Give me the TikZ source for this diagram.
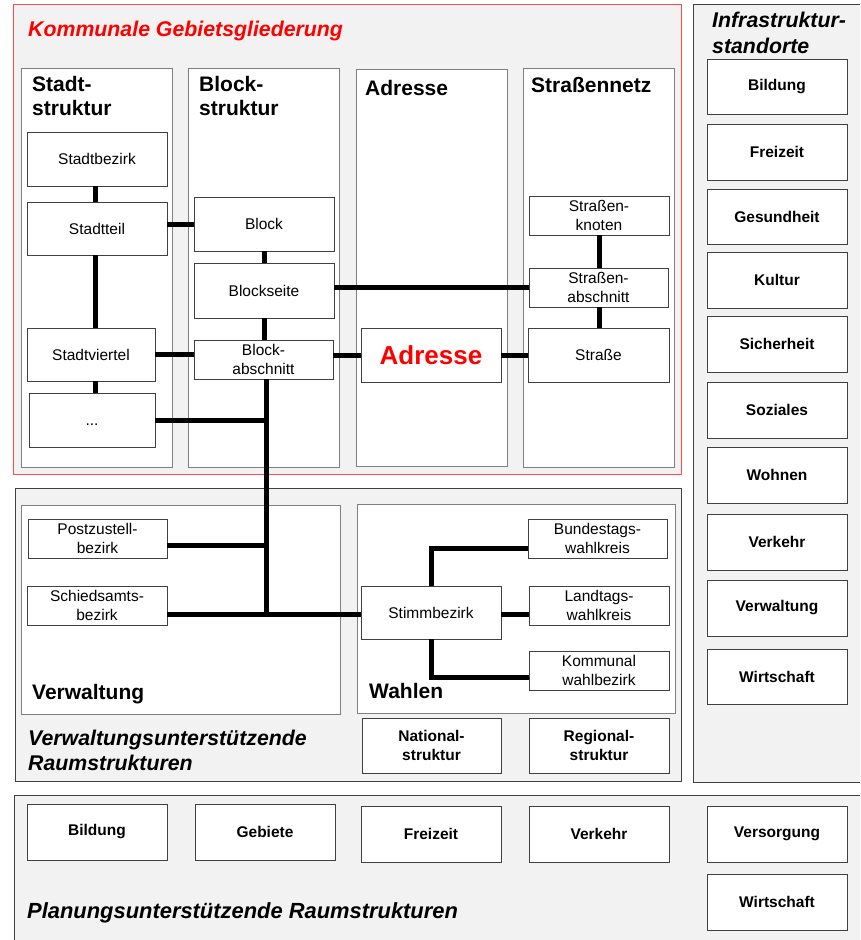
\documentclass[tikz,border=0pt]{standalone}
\usepackage{fontspec}
\setmainfont{Liberation Sans}
\usetikzlibrary{calc}
\definecolor{panelgray}{HTML}{F2F2F2}
\definecolor{edgedark}{HTML}{404040}
\definecolor{edgegray}{HTML}{7F7F7F}
\definecolor{kred}{HTML}{FF0000}
\definecolor{kredline}{HTML}{FF4A4A}
\newcommand{\placebox}[7]{%
  \node[#6, minimum width={(#4)-(#2)}, minimum height={(#5)-(#3)}] (#1) at ({((#2)+(#4))/2},{((#3)+(#5))/2}) {#7};}
\tikzset{
  panel/.style={draw=edgedark, fill=panelgray, line width=1pt, inner sep=0pt},
  redpanel/.style={draw=kredline, fill=panelgray, line width=1pt, inner sep=0pt},
  colbox/.style={draw=edgegray, fill=white, line width=1pt, inner sep=0pt},
  box/.style={draw=edgedark, fill=white, line width=0.9pt, align=center, inner sep=0pt, font=\fontsize{15.5}{18.5}\selectfont},
  bbox/.style={box, font=\bfseries\fontsize{15.5}{18.5}\selectfont},
  head/.style={anchor=base west, inner sep=0pt, font=\bfseries\fontsize{21}{24}\selectfont},
  ihead/.style={anchor=base west, inner sep=0pt, font=\bfseries\itshape\fontsize{21.3}{24}\selectfont},
  link/.style={line width=5pt, draw=black}
}
\begin{document}
\begin{tikzpicture}[x=1pt, y=-1pt]
\useasboundingbox (0,0) rectangle (860,940);
\clip (0,0) rectangle (860,940);
% panels
\placebox{kommunal}{13}{4}{681}{474}{redpanel}{}
\placebox{infra}{693}{4}{872}{782}{panel}{}
\placebox{verwpanel}{15}{488}{681}{781}{panel}{}
\placebox{planpanel}{14}{795}{872}{952}{panel}{}
% columns
\placebox{colstadt}{21}{68}{172}{467}{colbox}{}
\placebox{colblock}{188}{68}{339}{467}{colbox}{}
\placebox{coladr}{356}{69}{507}{466}{colbox}{}
\placebox{colstr}{523}{68}{674}{467}{colbox}{}
\placebox{colverw}{21}{505}{340}{714}{colbox}{}
\placebox{colwahl}{357}{504}{675}{713}{colbox}{}
% headings
\node[ihead, text=kred] (tkommunal) at (28,36) {Kommunale Gebietsgliederung};
\node[head] (tstadt1) at (32,91) {Stadt-};
\node[head] (tstadt2) at (32,115) {struktur};
\node[head] (tblock1) at (199,91) {Block-};
\node[head] (tblock2) at (199,115) {struktur};
\node[head] (tadr) at (365,95) {Adresse};
\node[head] (tstr) at (531,92) {Straßennetz};
\node[ihead] (tinfra1) at (712,27) {Infrastruktur-};
\node[ihead] (tinfra2) at (712,53) {standorte};
\node[head] (tverw) at (32,699) {Verwaltung};
\node[head] (twahl) at (369,698) {Wahlen};
\node[ihead] (tvu1) at (28,745) {Verwaltungsunterstützende};
\node[ihead] (tvu2) at (28,770) {Raumstrukturen};
\node[ihead, font=\bfseries\itshape\fontsize{21.9}{24}\selectfont] (tplan) at (27,918) {Planungsunterstützende Raumstrukturen};
% Stadtstruktur
\placebox{stadtbezirk}{27}{132}{167}{186}{box}{Stadtbezirk}
\placebox{stadtteil}{27}{202}{167}{255}{box}{Stadtteil}
\placebox{stadtviertel}{27}{328}{155}{381}{box}{Stadtviertel}
\placebox{dots}{29}{393}{155}{447}{box}{\vphantom{S}...}
% Blockstruktur
\placebox{block}{194}{197}{334}{251}{box}{Block}
\placebox{blockseite}{194}{263}{334}{318}{box}{Blockseite}
\placebox{blockabschnitt}{194}{340}{333}{379}{box}{Block-\\abschnitt}
% Adresse
\placebox{adresse}{361}{328}{501}{382}{box}{\textcolor{kred}{\bfseries\fontsize{26}{30}\selectfont Adresse}}
% Strassennetz
\placebox{strknoten}{529}{196}{669}{235}{box}{Straßen-\\knoten}
\placebox{strabschnitt}{529}{268}{668}{307}{box}{Straßen-\\abschnitt}
\placebox{strasse}{528}{328}{669}{382}{box}{Straße}
% Verwaltung
\placebox{postzustell}{28}{519}{167}{558}{box}{Postzustell-\\bezirk}
\placebox{schiedsamt}{27}{586}{167}{625}{box}{Schiedsamts-\\bezirk}
% Wahlen
\placebox{stimmbezirk}{361}{586}{501}{639}{box}{Stimmbezirk}
\placebox{bundestag}{528}{519}{667}{558}{box}{Bundestags-\\wahlkreis}
\placebox{landtag}{529}{586}{669}{625}{box}{Landtags-\\wahlkreis}
\placebox{kommwahl}{529}{651}{669}{690}{box}{Kommunal\\wahlbezirk}
\placebox{national}{362}{718}{501}{773}{bbox}{National-\\struktur}
\placebox{regional}{529}{718}{669}{773}{bbox}{Regional-\\struktur}
% Infrastrukturstandorte
\placebox{ibildung}{707}{59}{847}{114}{bbox}{Bildung}
\placebox{ifreizeit}{707}{124}{847}{180}{bbox}{Freizeit}
\placebox{igesund}{707}{189}{847}{244}{bbox}{Gesundheit}
\placebox{ikultur}{707}{252}{847}{308}{bbox}{Kultur}
\placebox{isicher}{707}{316}{847}{372}{bbox}{Sicherheit}
\placebox{isozial}{707}{382}{847}{438}{bbox}{Soziales}
\placebox{iwohnen}{707}{447}{847}{503}{bbox}{Wohnen}
\placebox{iverkehr}{707}{514}{847}{570}{bbox}{Verkehr}
\placebox{iverw}{707}{580}{847}{636}{bbox}{Verwaltung}
\placebox{iwirt}{707}{649}{847}{704}{bbox}{Wirtschaft}
% Planung
\placebox{pbildung}{27}{804}{167}{860}{bbox}{Bildung}
\placebox{pgebiete}{195}{804}{335}{860}{bbox}{Gebiete}
\placebox{pfreizeit}{361}{806}{501}{862}{bbox}{Freizeit}
\placebox{pverkehr}{529}{806}{669}{862}{bbox}{Verkehr}
\placebox{pversorg}{707}{806}{847}{862}{bbox}{Versorgung}
\placebox{pwirt}{707}{874}{847}{930}{bbox}{Wirtschaft}
% helper coordinates
\coordinate (vx) at (95,0);
\coordinate (J) at (266,614);
% connectors
\draw[link] (stadtbezirk.south -| vx) -- (stadtteil.north -| vx);
\draw[link] (stadtteil.south -| vx) -- (stadtviertel.north -| vx);
\draw[link] (stadtviertel.south -| vx) -- (dots.north -| vx);
\draw[link] (block.west -| stadtteil.east) -- (block.west);
\draw[link] (block.south) -- (blockseite.north);
\draw[link] (blockseite.south -| block.south) -- (blockabschnitt.north -| block.south);
\draw[link] (strabschnitt.west -| blockseite.east) -- (strabschnitt.west);
\draw[link] (stadtviertel.east) -- (stadtviertel.east -| blockabschnitt.west);
\draw[link] (adresse.west -| blockabschnitt.east) -- (adresse.west);
\draw[link] (adresse.east) -- (strasse.west);
\draw[link] (strknoten.south) -- (strknoten.south |- strabschnitt.north);
\draw[link] (strabschnitt.south -| strknoten.south) -- (strasse.north -| strknoten.south);
\draw[link] (blockabschnitt.south -| J) -- (J);
\draw[link] (dots.east) -- (dots.east -| J);
\draw[link] ([yshift=-6.5pt]postzustell.east) -- ([yshift=-6.5pt]postzustell.east -| J);
\draw[link] (schiedsamt.east |- J) -- (stimmbezirk.west |- J);
\draw[link] (stimmbezirk.north) |- ([yshift=-9.5pt]bundestag.west);
\draw[link] (stimmbezirk.east |- J) -- (landtag.west |- J);
\draw[link] (stimmbezirk.south) |- ([yshift=-6.5pt]kommwahl.west);
\end{tikzpicture}
\end{document}
